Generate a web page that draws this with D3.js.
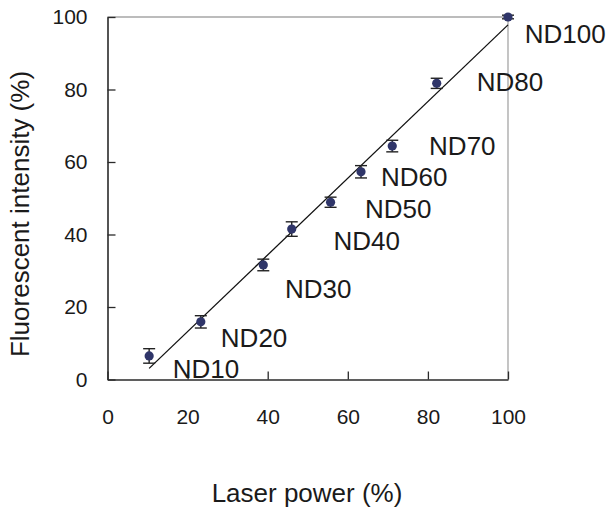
<!DOCTYPE html>
<html>
<head>
<meta charset="utf-8">
<script src="https://cdn.jsdelivr.net/npm/d3@7"></script>
<style>
  body { margin: 0; background: #fff; }
  text { font-family: Arial, "Liberation Sans", sans-serif; fill: #1a1a1a; }
</style>
</head>
<body>
<div id="chart"></div>
<script>
// data
const names = ["ND10", "ND20", "ND30", "ND40", "ND50", "ND60", "ND70", "ND80", "ND100"];
const laserPower = [10.4, 23.3, 38.9, 46.0, 55.7, 63.3, 71.1, 82.2, 100];
const intensity = [6.5, 15.9, 31.6, 41.5, 48.9, 57.3, 64.4, 81.7, 100];
const errors = [2.0, 1.7, 1.6, 2.0, 1.4, 1.7, 1.6, 1.4, 0.5];
// where the labels were dragged to (in data units)
const labelX = [16.3, 28.3, 44.3, 56.4, 64.3, 68.3, 80.3, 92.2, 104.2];
const labelY = [0.4, 9.0, 22.4, 35.7, 44.5, 53.3, 61.9, 79.7, 92.9];
const xTicks = [0, 20, 40, 60, 80, 100];
const yTicks = [0, 20, 40, 60, 80, 100];

const W = 611, H = 515;
const margin = { top: 17, right: 103, bottom: 135.5, left: 107.5 },
  width = W - margin.left - margin.right,
  height = H - margin.top - margin.bottom;

const svg = d3.select("#chart").append("svg")
  .attr("width", W)
  .attr("height", H);

const g = svg.append("g")
  .attr("transform", `translate(${margin.left}, ${margin.top})`);

const x = d3.scaleLinear([0, 100], [0, width]);
const y = d3.scaleLinear([0, 100], [height, 0]);

const data = names.map((n, i) => ({
  name: n, x: laserPower[i], y: intensity[i], err: errors[i], lx: labelX[i], ly: labelY[i]
}));

// top and right frame (light gray)
g.append("path")
  .attr("d", `M0,0H${width}V${height}`)
  .attr("fill", "none")
  .attr("stroke", "#a6a6a6")
  .attr("stroke-width", 1.3);

// axes with inward ticks
const xAxis = g.append("g")
  .attr("transform", `translate(0, ${height})`)
  .call(d3.axisBottom(x).tickValues(xTicks).tickSizeInner(-8).tickSizeOuter(0).tickPadding(30));
const yAxis = g.append("g")
  .call(d3.axisLeft(y).tickValues(yTicks).tickSizeInner(-8).tickSizeOuter(0).tickPadding(20));

[xAxis, yAxis].forEach((a) => {
  a.select(".domain").attr("stroke", "#2a2a2a").attr("stroke-width", 1.6);
  a.selectAll(".tick line").attr("stroke", "#2a2a2a").attr("stroke-width", 1.3);
  a.selectAll(".tick text")
    .attr("fill", "#222")
    .style("font-size", "21px")
    .style("font-family", "Arial, 'Liberation Sans', sans-serif");
});

// linear trend line
const mx = d3.mean(laserPower), my = d3.mean(intensity);
const slope = d3.sum(data, (d) => (d.x - mx) * (d.y - my)) / d3.sum(data, (d) => (d.x - mx) ** 2);
const icpt = my - slope * mx;
const x0 = d3.min(laserPower), x1 = d3.max(laserPower);
g.append("line")
  .attr("x1", x(x0)).attr("y1", y(slope * x0 + icpt))
  .attr("x2", x(x1)).attr("y2", y(slope * x1 + icpt))
  .attr("stroke", "#111")
  .attr("stroke-width", 1.3);

// error bars
const eb = g.append("g").attr("stroke", "#222").attr("stroke-width", 1.4);
eb.selectAll(".v").data(data).join("line")
  .attr("x1", (d) => x(d.x)).attr("x2", (d) => x(d.x))
  .attr("y1", (d) => y(d.y - d.err)).attr("y2", (d) => y(d.y + d.err));
eb.selectAll(".top").data(data).join("line")
  .attr("x1", (d) => x(d.x) - 6).attr("x2", (d) => x(d.x) + 6)
  .attr("y1", (d) => y(d.y + d.err)).attr("y2", (d) => y(d.y + d.err));
eb.selectAll(".bot").data(data).join("line")
  .attr("x1", (d) => x(d.x) - 6).attr("x2", (d) => x(d.x) + 6)
  .attr("y1", (d) => y(d.y - d.err)).attr("y2", (d) => y(d.y - d.err));

// points
g.selectAll(".pt").data(data).join("circle")
  .attr("cx", (d) => x(d.x))
  .attr("cy", (d) => y(d.y))
  .attr("r", 4.6)
  .attr("fill", "#2f3569");

// ND labels
g.selectAll(".lbl").data(data).join("text")
  .attr("x", (d) => x(d.lx))
  .attr("y", (d) => y(d.ly))
  .style("font-size", "26px")
  .text((d) => d.name);

// axis titles
svg.append("text")
  .attr("x", 307)
  .attr("y", 502)
  .attr("text-anchor", "middle")
  .style("font-size", "26px")
  .text("Laser power (%)");

svg.append("text")
  .attr("transform", "translate(29, 214) rotate(-90)")
  .attr("text-anchor", "middle")
  .style("font-size", "26px")
  .text("Fluorescent intensity (%)");
</script>
</body>
</html>
